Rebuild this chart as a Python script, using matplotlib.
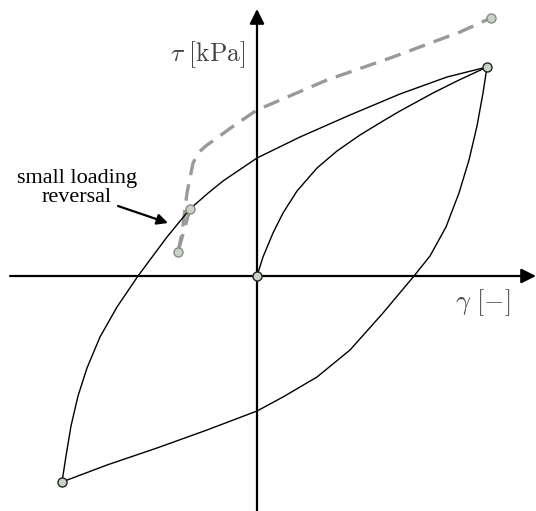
import matplotlib
matplotlib.use("Agg")
import matplotlib.pyplot as plt

plt.rcParams['mathtext.fontset'] = 'cm'

# Curves (gamma, tau) (arbitrary units)
init_x = [0, 6, 16, 26, 40, 60, 80, 103, 126, 143, 176, 200, 230]
init_y = [0, 19, 43, 63, 85, 108, 125, 141, 155, 165, 183, 195, 209]

upper_x = [-195, -191, -186, -179, -170, -157, -140, -119, -90, -67, -50, -34, 0, 43, 93, 143, 190, 230]
upper_y = [-206, -180, -150, -120, -92, -61, -31, 0, 39, 67, 82, 95, 118, 139, 161, 182, 199, 209]

lower_x = [230, 226, 220, 212, 202, 189, 173, 157, 126, 93, 60, 26, 0, -50, -100, -150, -195]
lower_y = [209, 183, 150, 116, 83, 49, 20, 0, -37, -74, -101, -121, -135, -154, -172, -189, -206]

unload_x = [-67, -79]
unload_y = [67, 24]

reload_x = [-79, -75, -70, -64, -58, -50, -40, -25, 0, 70, 136, 203, 234]
reload_y = [24, 43, 83, 113, 124, 131, 138, 149, 166, 196, 219, 244, 258]

fig = plt.figure(figsize=(5.36, 5.11), dpi=100)
ax = fig.add_axes([0, 0, 1, 1])
ax.set_xlim(-257, 279)
ax.set_ylim(-235, 276)
ax.axis('off')

# axes with arrows
ax.annotate('', xy=(279, 0), xytext=(-247, 0),
            arrowprops=dict(arrowstyle='-|>', lw=1.6, color='black',
                            mutation_scale=22, shrinkA=0, shrinkB=0))
ax.annotate('', xy=(0, 267), xytext=(0, -235),
            arrowprops=dict(arrowstyle='-|>', lw=1.6, color='black',
                            mutation_scale=22, shrinkA=0, shrinkB=0))

# loop curves
for xs, ys in [(init_x, init_y), (upper_x, upper_y), (lower_x, lower_y)]:
    ax.plot(xs, ys, color='black', lw=1.0, solid_joinstyle='round', zorder=3)

dash_kw = dict(color='#999999', lw=2.4, dashes=(5, 2.8), zorder=2)
ax.plot(unload_x, unload_y, **dash_kw)
ax.plot(reload_x, reload_y, **dash_kw)

mk = dict(marker='o', ms=6.5, mfc='#c9d3c5', ls='none', zorder=5)
ax.plot([0, 230, -195], [0, 209, -206], mec='#222222', mew=1.0, **mk)
ax.plot([-67, -79, 234], [67, 24, 258], mec='#8a8a8a', mew=1.0, **mk)

# labels
ax.text(-11, 221, r'$\tau\ [\mathrm{kPa}]$', ha='right', va='center',
        fontsize=18.5, color='#444444')
ax.text(198, -27, r'$\gamma\ [-]$', ha='left', va='center',
        fontsize=19, color='#444444')

ax.text(-180, 88, 'small loading\nreversal', ha='center', va='center',
        fontsize=16, family='Liberation Serif', linespacing=1.0)
ax.annotate('', xy=(-89, 53), xytext=(-139, 70),
            arrowprops=dict(arrowstyle='-|>', lw=1.6, color='black',
                            mutation_scale=16, shrinkA=0, shrinkB=0))

fig.savefig('out.png', dpi=100)
